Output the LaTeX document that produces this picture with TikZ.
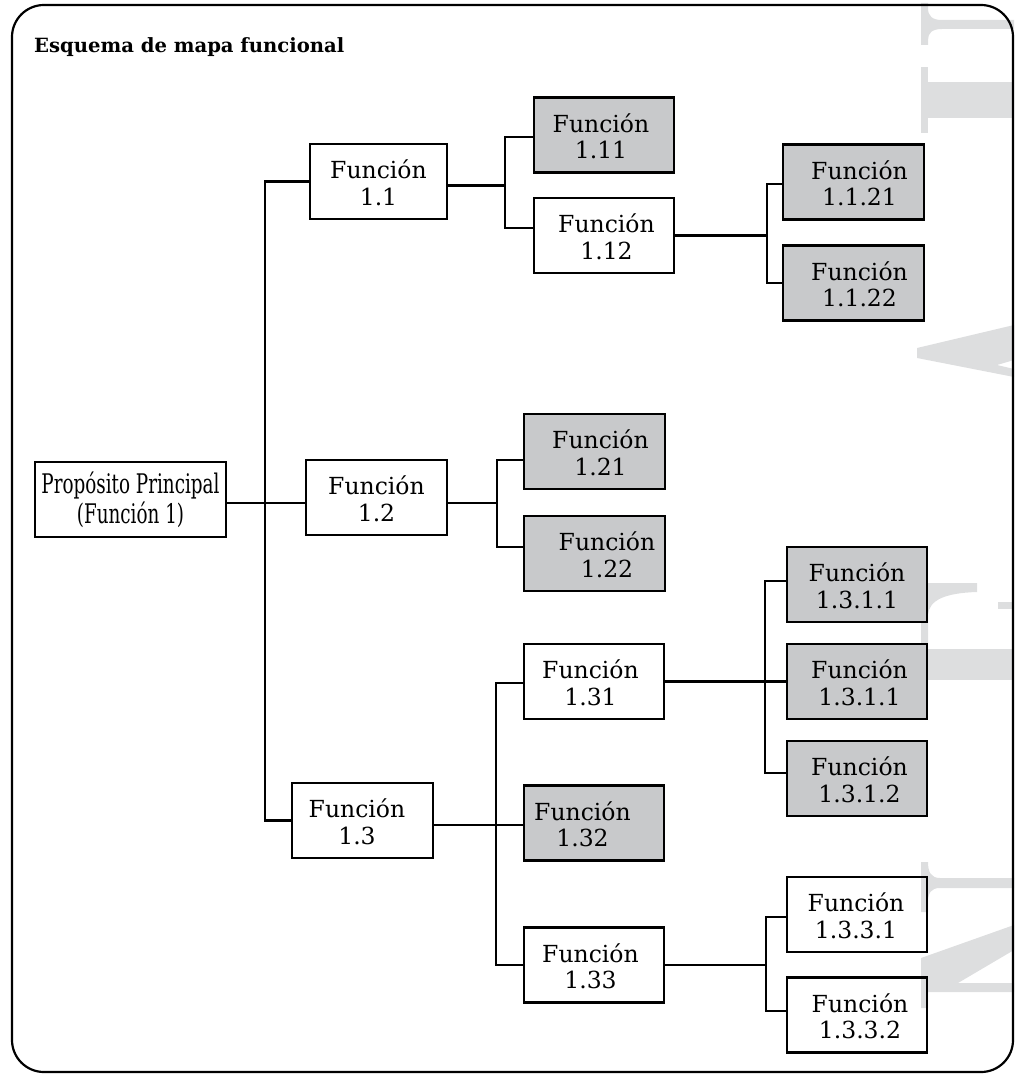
\documentclass[tikz,border=0pt]{standalone}
\usepackage{fontspec}
\setmainfont{DejaVu Serif}
\usepackage{graphicx}
\definecolor{boxgray}{RGB}{200,201,203}
\definecolor{markgray}{RGB}{221,222,223}
% two-line "Función" label; optional argument shifts the text sideways
\newcommand{\fnlabel}[2][0pt]{\hspace*{#1}\rule{0pt}{21pt}Función\\\hspace*{#1}#2}
\begin{document}
\begin{tikzpicture}[x=1pt,y=-1pt,
  fbox/.style={draw=black, line width=2.7pt, minimum width=140pt, minimum height=75pt,
    inner sep=0pt, align=center, font=\fontsize{23.5}{26.5}\selectfont},
  leaf/.style={fbox, fill=boxgray},
  link/.style={line width=2.5pt},
  wmark/.style={fill=markgray}]
\useasboundingbox (0,0) rectangle (1014,1075);

% light background lettering along the right edge
\fill[wmark] (921,3) -- (928,3) -- (928,8) .. controls (928,16) and (932,20) .. (942,20)
  -- (1014,20) -- (1014,29) -- (942,29) .. controls (932,29) and (928,33) .. (928,40)
  -- (928,45) -- (921,45) -- cycle;
\fill[wmark] (921,67) rectangle (928,133);
\fill[wmark] (928,82) rectangle (1014,118);
\fill[wmark] (917,348) -- (1014,325) -- (1014,360) -- (997,365) -- (1014,369)
  -- (1014,377) -- (917,358) -- cycle;
\fill[wmark] (921,583) -- (977,583) -- (977,592) .. controls (945,593) and (929,600) .. (928,615)
  -- (928,680) -- (921,680) -- cycle;
\fill[wmark] (998,602) rectangle (1014,609);
\fill[wmark] (928,649) rectangle (1014,680);
\fill[wmark] (921,862) -- (928,862) .. controls (928,872) and (931,878) .. (940,878)
  -- (1014,878) -- (1014,888) -- (940,888) .. controls (931,888) and (928,893) .. (928,902)
  -- (928,912) -- (921,912) -- cycle;
\fill[wmark] (921,958) -- (1014,925) -- (1014,950) -- (958,983) -- (1014,983)
  -- (1014,992) -- (928,992) -- (928,1008) -- (921,1008) -- cycle;

% frame and title
\draw[line width=2.2pt, rounded corners=32pt] (12,5) rectangle (1013,1072);
\node[anchor=base west, inner sep=0pt, font=\fontsize{19.6}{23}\selectfont\bfseries]
  (title) at (34,53) {Esquema de mapa funcional};

% boxes
\node[fbox, minimum width=191pt, font=\fontsize{27}{30}\selectfont] (pp) at (130.5,499.5)
  {\scalebox{0.68}[1]{Propósito Principal}\\\scalebox{0.68}[1]{(Función 1)}};
\node[fbox, minimum width=137pt] (f11) at (378.5,181.5) {\fnlabel{1.1}};
\node[fbox, minimum width=141pt] (f12) at (376.5,497.5) {\fnlabel{1.2}};
\node[fbox, minimum width=141pt] (f13) at (362.5,820.5) {\fnlabel[-11pt]{1.3}};

\node[leaf] (f111) at (604,135) {\fnlabel[-6pt]{1.11}};
\node[fbox] (f112) at (604,235.5) {\fnlabel[5pt]{1.12}};
\node[leaf, minimum width=141pt] (f1121) at (853.5,182) {\fnlabel[12pt]{1.1.21}};
\node[leaf, minimum width=141pt] (f1122) at (853.5,283) {\fnlabel[12pt]{1.1.22}};

\node[leaf, minimum width=141pt] (f121) at (594.5,451.5) {\fnlabel[12pt]{1.21}};
\node[leaf, minimum width=141pt] (f122) at (594.5,553.5) {\fnlabel[25pt]{1.22}};

\node[fbox] (f131) at (594,681.5) {\fnlabel[-7pt]{1.31}};
\node[leaf] (f132) at (594,823) {\fnlabel[-23pt]{1.32}};
\node[fbox] (f133) at (594,965) {\fnlabel[-7pt]{1.33}};

\node[leaf] (f1311a) at (857,584.5) {\fnlabel{1.3.1.1}};
\node[leaf] (f1311b) at (857,681.5) {\fnlabel[5pt]{1.3.1.1}};
\node[leaf] (f1312) at (857,778.5) {\fnlabel[5pt]{1.3.1.2}};
\node[fbox] (f1331) at (857,914.5) {\fnlabel[-2pt]{1.3.3.1}};
\node[fbox] (f1332) at (857,1015) {\fnlabel[6pt]{1.3.3.2}};

% connectors
\coordinate (tr) at (265,500);
\coordinate (b1) at (505,0);
\coordinate (b2) at (767,0);
\coordinate (b3) at (497,0);
\coordinate (b4) at (496,0);
\coordinate (b5) at (765,0);
\coordinate (b6) at (766,0);

\draw[link] (f11.west) -- (f11.west -| tr) -- (f13.west -| tr) -- (f13.west);
\draw[link] ([yshift=-3.5pt]pp.east) -- ([yshift=-3.5pt]pp.east -| f12.west);

\draw[link] ([yshift=-4pt]f11.east) -- ([yshift=-4pt]f11.east -| b1);
\draw[link] ([yshift=-2pt]f111.west) -- ([yshift=-2pt]f111.west -| b1)
  -- ([yshift=7.5pt]f112.west -| b1) -- ([yshift=7.5pt]f112.west);

\draw[link] (f112.east) -- (f112.east -| b2);
\draw[link] ([yshift=-2pt]f1121.west) -- ([yshift=-2pt]f1121.west -| b2)
  -- (f1122.west -| b2) -- (f1122.west);

\draw[link] ([yshift=-5.5pt]f12.east) -- ([yshift=-5.5pt]f12.east -| b3);
\draw[link] ([yshift=-8.5pt]f121.west) -- ([yshift=-8.5pt]f121.west -| b3)
  -- ([yshift=6.5pt]f122.west -| b3) -- ([yshift=6.5pt]f122.west);

\draw[link] ([yshift=-4.5pt]f13.east) -- ([yshift=-4.5pt]f13.east -| f132.west);
\draw[link] ([yshift=-1.5pt]f131.west) -- ([yshift=-1.5pt]f131.west -| b4)
  -- (f133.west -| b4) -- (f133.west);

\draw[link] (f131.east) -- (f1311b.west);
\draw[link] ([yshift=3.5pt]f1311a.west) -- ([yshift=3.5pt]f1311a.west -| b5)
  -- ([yshift=5.5pt]f1312.west -| b5) -- ([yshift=5.5pt]f1312.west);

\draw[link] (f133.east) -- (f133.east -| b6);
\draw[link] ([yshift=-2.5pt]f1331.west) -- ([yshift=-2.5pt]f1331.west -| b6)
  -- ([yshift=4pt]f1332.west -| b6) -- ([yshift=4pt]f1332.west);
\end{tikzpicture}
\end{document}
